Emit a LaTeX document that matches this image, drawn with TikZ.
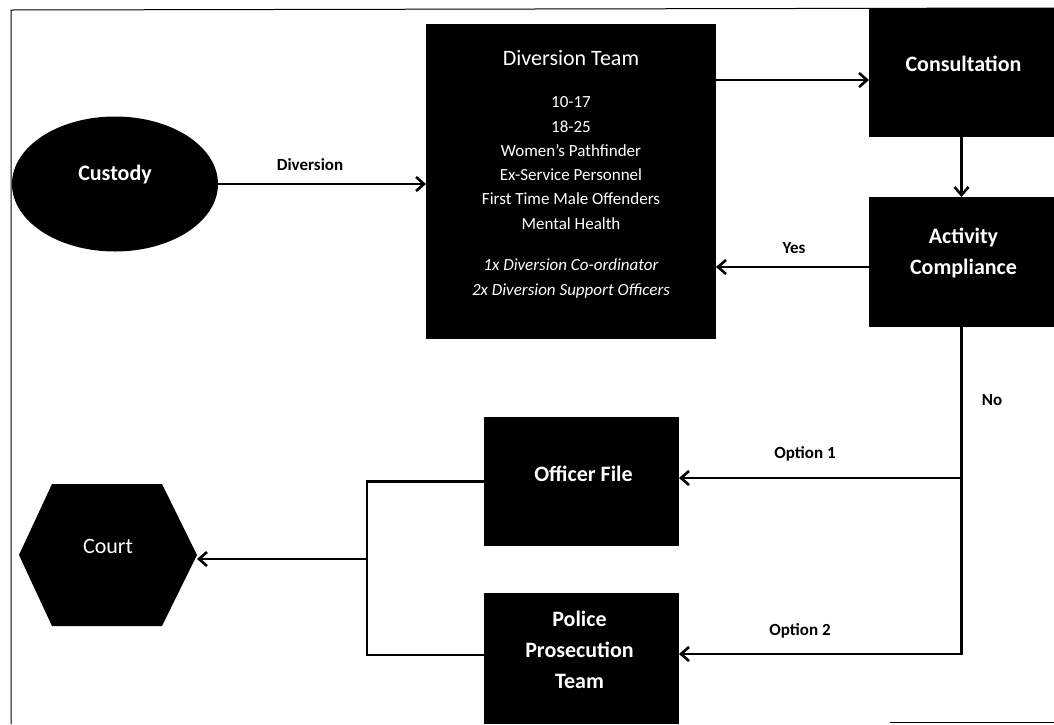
\documentclass[tikz,border=0pt]{standalone}
\usepackage{fontspec}
\setmainfont{Carlito}
\usetikzlibrary{arrows.meta,calc,shapes.geometric}
\begin{document}
\begin{tikzpicture}[x=1pt,y=-1pt,
  box/.style={fill=black,draw=none,inner sep=0pt,outer sep=0pt},
  boxtxt/.style={text=white,font=\fontsize{22}{31}\selectfont\bfseries,align=center,inner sep=0pt},
  dtitle/.style={text=white,font=\fontsize{22}{26}\selectfont,anchor=base,inner sep=0pt},
  dline/.style={text=white,font=\fontsize{17}{20}\selectfont,anchor=base,inner sep=0pt},
  dital/.style={dline,font=\fontsize{17}{20}\selectfont\itshape},
  elabel/.style={font=\fontsize{17}{20}\selectfont\bfseries,inner sep=0pt},
  conn/.style={line width=2.3pt,draw=black},
  arr/.style={conn,-{Straight Barb[length=8pt,width=14pt,line width=2.6pt]}},
  frame/.style={line width=1pt,draw=black}]
\useasboundingbox (0,0) rectangle (1054,724);

% frame
\draw[frame] (11,724) -- (11,10) -- (1054,8);
\draw[frame] (890,722.5) -- (1054,722.5);

% custody
\node[box,ellipse,minimum width=206pt,minimum height=135pt] (custody) at (115,184) {};
\node[boxtxt] (custodytxt) at ([yshift=9pt]custody.center) {Custody};

% diversion team
\node[box,minimum width=290pt,minimum height=315pt] (dteam) at (571,181.5) {};
\node[dtitle] (dt0) at (571,65) {Diversion Team};
\node[dline] (dt1) at (571,107.2) {10-17};
\node[dline] (dt2) at (571,132.2) {18-25};
\node[dline] (dt3) at (571,156.2) {Women’s Pathfinder};
\node[dline] (dt4) at (571,180.5) {Ex-Service Personnel};
\node[dline] (dt5) at (571,204.8) {First Time Male Offenders};
\node[dline] (dt6) at (571,229.5) {Mental Health};
\node[dital] (dt7) at (571,270.5) {1x Diversion Co-ordinator};
\node[dital] (dt8) at (571,295.5) {2x Diversion Support Officers};

% consultation
\node[box,minimum width=185pt,minimum height=129pt] (consult) at (961.5,72.5) {};
\node[boxtxt] (consulttxt) at ([xshift=2pt,yshift=9pt]consult.center) {Consultation};

% activity compliance
\node[box,minimum width=185pt,minimum height=130pt] (act) at (961.5,262) {};
\node[boxtxt] (acttxt) at ([xshift=2pt,yshift=9pt]act.center) {Activity\\Compliance};

% officer file
\node[box,minimum width=195pt,minimum height=129pt] (officer) at (581.5,481.5) {};
\node[boxtxt] (officertxt) at ([xshift=2pt,yshift=7.5pt]officer.center) {Officer File};

% police prosecution team
\node[box,minimum width=195pt,minimum height=131pt] (police) at (581.5,658.5) {};
\node[boxtxt] (policetxt) at ([xshift=-2pt,yshift=8.5pt]police.center) {Police\\Prosecution\\Team};

% court hexagon
\node[draw=none,inner sep=0pt,outer sep=0pt,minimum width=178pt,minimum height=142pt] (court) at (108,555) {};
\fill[black] (court.west) -- ([xshift=33pt]court.north west) -- ([xshift=-35pt]court.north east)
  -- (court.east) -- ([xshift=-35pt]court.south east) -- ([xshift=33pt]court.south west) -- cycle;
\node[boxtxt,font=\fontsize{22}{26}\selectfont] (courttxt) at ([yshift=9pt]court.center) {Court};

% connectors
\draw[arr] (custody.east) -- (custody.east -| dteam.west);
\coordinate (c1) at ([yshift=-7.5pt]consult.west);
\draw[arr] (c1 -| dteam.east) -- (c1);
\draw[arr] (consult.south) -- (act.north);
\coordinate (y1) at ([yshift=-5pt]act.west);
\draw[arr] (y1) -- (y1 -| dteam.east);
\coordinate (o1) at ([yshift=3.5pt]officer.east);
\coordinate (o2) at ([yshift=4.5pt]police.east);
\draw[arr] (act.south) -- (act.south |- o2) -- (o2);
\draw[arr] (act.south |- o1) -- (o1);
\coordinate (p1) at ([yshift=3.5pt]police.west);
\coordinate (bx) at (367,559);
\draw[conn] (officer.west) -- (bx |- officer.west) -- (bx |- p1) -- (p1);
\draw[arr] (bx) -- (bx -| court.east);

% labels
\node[elabel] (ldiv) at (310,165) {Diversion};
\node[elabel] (lyes) at (794,248) {Yes};
\node[elabel] (lno) at (992,400) {No};
\node[elabel] (lop1) at (805,454) {Option 1};
\node[elabel] (lop2) at (800,631) {Option 2};
\end{tikzpicture}
\end{document}
